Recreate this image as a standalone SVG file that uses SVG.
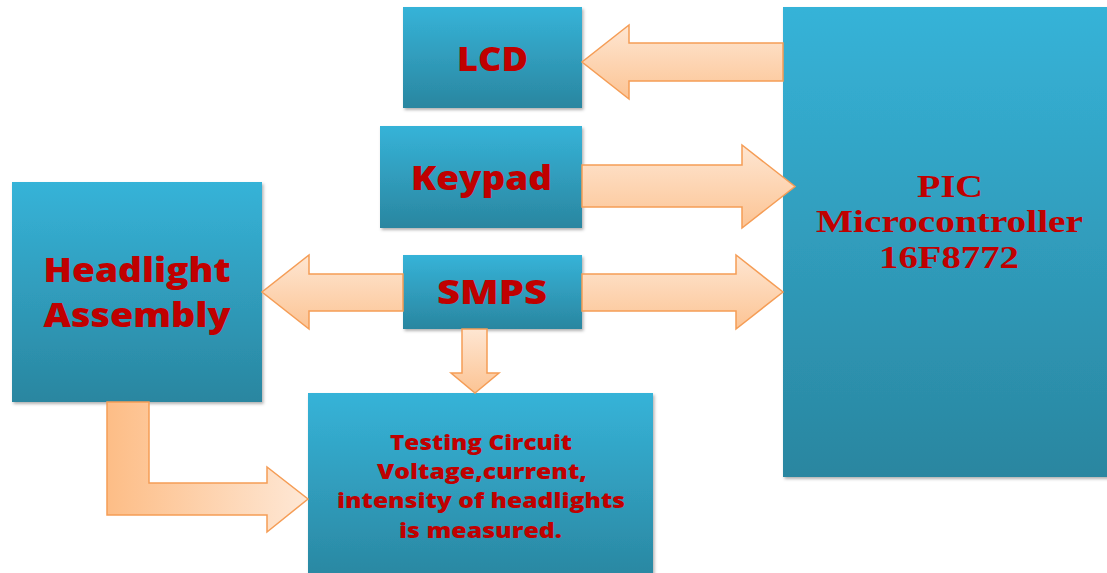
<svg xmlns="http://www.w3.org/2000/svg" width="1107" height="573" viewBox="0 0 1107 573">
  <defs>
    <linearGradient id="boxG" x1="0" y1="0" x2="0" y2="1">
      <stop offset="0" stop-color="#36b3d8"/>
      <stop offset="1" stop-color="#2a86a0"/>
    </linearGradient>
    <linearGradient id="arrV" x1="0" y1="0" x2="0" y2="1">
      <stop offset="0" stop-color="#fee6d2"/>
      <stop offset="1" stop-color="#fcc494"/>
    </linearGradient>
    <linearGradient id="arrH" x1="0" y1="0" x2="1" y2="0">
      <stop offset="0" stop-color="#fdbd86"/>
      <stop offset="1" stop-color="#fee8d6"/>
    </linearGradient>
    <filter id="sh" x="-10%" y="-10%" width="120%" height="120%">
      <feDropShadow dx="1.5" dy="2" stdDeviation="1.5" flood-color="#000" flood-opacity="0.3"/>
    </filter>
    <style>
      .box { fill: url(#boxG); filter: url(#sh); }
      .arr { stroke: #f59d56; stroke-width: 1.5; stroke-linejoin: miter; }
      .lbl { font-family: "Open Sans", "Liberation Sans", sans-serif; font-weight: 800; fill: #c00000; text-anchor: middle; }
      .ser { font-family: "Liberation Serif", "DejaVu Serif", serif; font-weight: 700; fill: #c00000; text-anchor: middle; }
    </style>
  </defs>
  <rect width="1107" height="573" fill="#ffffff"/>

  <g id="lcd">
    <rect class="box" x="403" y="7" width="179" height="101"/>
    <text class="lbl" x="492.5" y="71" font-size="34" textLength="71" lengthAdjust="spacingAndGlyphs">LCD</text>
  </g>
  <g id="keypad">
    <rect class="box" x="380" y="126" width="202" height="102"/>
    <text class="lbl" x="481.5" y="190" font-size="34" textLength="141" lengthAdjust="spacingAndGlyphs">Keypad</text>
  </g>
  <g id="smps">
    <rect class="box" x="403" y="255" width="179" height="74"/>
    <text class="lbl" x="492" y="304" font-size="34" textLength="110" lengthAdjust="spacingAndGlyphs">SMPS</text>
  </g>
  <g id="headlight">
    <rect class="box" x="12" y="182" width="250" height="220"/>
    <text class="lbl" x="137" y="282" font-size="34" textLength="187" lengthAdjust="spacingAndGlyphs">Headlight</text>
    <text class="lbl" x="137" y="327" font-size="34" textLength="187" lengthAdjust="spacingAndGlyphs">Assembly</text>
  </g>
  <g id="testing">
    <rect class="box" x="308" y="393" width="345" height="190"/>
    <text class="lbl" x="481" y="450" font-size="21" textLength="182" lengthAdjust="spacingAndGlyphs">Testing Circuit</text>
    <text class="lbl" x="482" y="479" font-size="21" textLength="210" lengthAdjust="spacingAndGlyphs">Voltage,current,</text>
    <text class="lbl" x="481" y="508" font-size="21" textLength="288" lengthAdjust="spacingAndGlyphs">intensity of headlights</text>
    <text class="lbl" x="480.5" y="538" font-size="21" textLength="163" lengthAdjust="spacingAndGlyphs">is measured.</text>
  </g>
  <g id="pic">
    <rect class="box" x="783" y="7" width="330" height="470"/>
    <text class="ser" x="950" y="197" font-size="32" textLength="66" lengthAdjust="spacingAndGlyphs">PIC</text>
    <text class="ser" x="949.5" y="232" font-size="32" textLength="267" lengthAdjust="spacingAndGlyphs">Microcontroller</text>
    <text class="ser" x="949" y="268" font-size="32" textLength="140" lengthAdjust="spacingAndGlyphs">16F8772</text>
  </g>

  <g id="connectors">
    <path class="arr" fill="url(#arrV)" d="M783,43 L629,43 L629,25 L582,62 L629,99 L629,81 L783,81 Z"/>
    <path class="arr" fill="url(#arrV)" d="M582,165 L742,165 L742,145 L795,186.5 L742,228 L742,207 L582,207 Z"/>
    <path class="arr" fill="url(#arrV)" d="M582,274 L736,274 L736,255 L783,292 L736,329 L736,311 L582,311 Z"/>
    <path class="arr" fill="url(#arrV)" d="M403,274 L309,274 L309,255 L262,292 L309,329 L309,311 L403,311 Z"/>
    <path class="arr" fill="url(#arrV)" d="M462,329 L462,373 L451,373 L475,393 L499,373 L487,373 L487,329 Z"/>
    <path class="arr" fill="url(#arrH)" d="M107,402 L107,515 L267,515 L267,532 L308,499 L267,467 L267,483 L149,483 L149,402 Z"/>
  </g>
</svg>
